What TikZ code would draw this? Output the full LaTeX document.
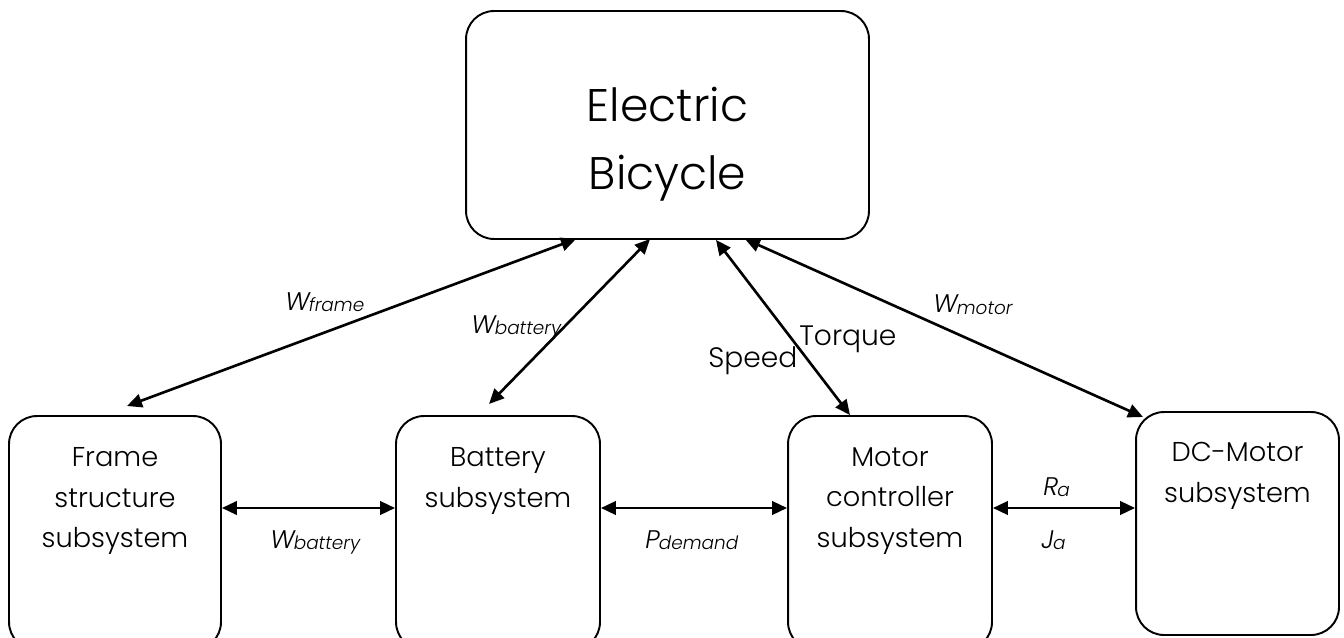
\documentclass[tikz,border=0pt]{standalone}
\usepackage{fontspec}
\setmainfont{Poppins}[UprightFont=* Light, ItalicFont=* Light Italic]
\usetikzlibrary{positioning,arrows.meta,calc}
\newcommand{\qty}[2]{\textit{#1\kern-0.5pt\raisebox{-1pt}{\fontsize{10.5}{11}\selectfont #2}}}

\begin{document}
\begin{tikzpicture}[
  x=0.02cm, y=-0.02cm,
  box/.style={draw, line width=1.1pt, rounded corners=0.56cm, inner sep=0pt},
  txt/.style={align=center, font=\fontsize{15.5}{23.2}\selectfont, inner sep=0pt, anchor=north},
  lbl/.style={font=\fontsize{14.5}{17}\selectfont, inner sep=0pt, anchor=base west},
  link/.style={line width=1.5pt, {Triangle[length=0.3cm,width=0.27cm]}-{Triangle[length=0.3cm,width=0.27cm]}},
]
\clip (0,0) rectangle (1344,638);

% top level
\node[box, minimum width=8.06cm, minimum height=4.56cm] (bike) at (667.5,125) {};
\node[txt, font=\fontsize{26}{38.6}\selectfont] (bike-t) at (667.5,87) {Electric\\Bicycle};

% subsystems
\node[box, minimum width=4.24cm, minimum height=4.68cm] (frame) at (115,533) {};
\node[box, minimum width=4.08cm, minimum height=4.68cm] (batt) at (498,533) {};
\node[box, minimum width=4.08cm, minimum height=4.68cm] (ctrl) at (890,533) {};
\node[box, minimum width=4.06cm, minimum height=4.46cm] (dcm) at (1237.5,523.5) {};

\node[txt] (frame-t) at (115,447) {Frame\\structure\\subsystem};
\node[txt] (batt-t) at (498,447) {Battery\\subsystem};
\node[txt] (ctrl-t) at (890,447) {Motor\\controller\\subsystem};
\node[txt] (dcm-t) at (1237.5,442) {DC-Motor\\subsystem};

% arrow ends
\coordinate (b1) at (576,239);
\coordinate (b2) at (650,239);
\coordinate (b3) at (716,240);
\coordinate (b4) at (745,239);
\coordinate (f1) at (127,406);
\coordinate (f2) at (489,404);
\coordinate (f3) at (850,415);
\coordinate (f4) at (1143,417);

\draw[link] (b1) -- (f1);
\draw[link] (b2) -- (f2);
\draw[link] (b3) -- (f3);
\draw[link] (b4) -- (f4);

\draw[link] (frame.east |- 0,508) -- (batt.west |- 0,508);
\draw[link] (batt.east |- 0,508) -- (ctrl.west |- 0,508);
\draw[link] (ctrl.east |- 0,508) -- (dcm.west |- 0,508);

% labels
\node[lbl] (l-wf) at (285,310) {\qty{W}{frame}};
\node[lbl] (l-wb) at (471,333) {\qty{W}{battery}};
\node[lbl, font=\fontsize{16}{18}\selectfont] (l-sp) at (708,367) {Speed};
\node[lbl, font=\fontsize{16}{18}\selectfont] (l-tq) at (799,345) {Torque};
\node[lbl] (l-wm) at (933,313) {\qty{W}{motor}};
\node[lbl] (l-wb2) at (270,548) {\qty{W}{battery}};
\node[lbl] (l-pd) at (645,548) {\qty{P}{demand}};
\node[lbl] (l-ra) at (1043,495) {\qty{R}{a}};
\node[lbl] (l-ja) at (1041,548) {\qty{J}{a}};
\end{tikzpicture}
\end{document}
